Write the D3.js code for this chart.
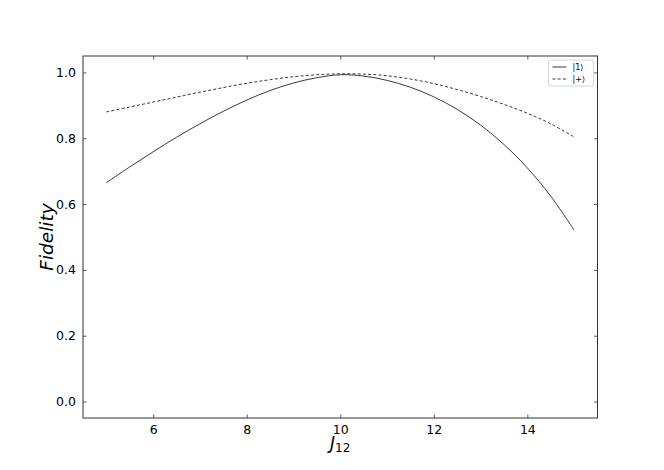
<!DOCTYPE html>
<meta charset="utf-8">
<head>
<title>Fidelity vs J12</title>
<style>
  body { margin: 0; background: white; }
  text { font-family: "DejaVu Sans", sans-serif; fill: #000; }
</style>
</head>
<body>
<div id="chart1"></div>
<script src="https://d3js.org/d3.v7.min.js"></script>
<script>

// coupling values J12
var j12 = [5, 5.5, 6, 6.5, 7, 7.5, 8, 8.5, 9, 9.5, 10, 10.5, 11, 11.5, 12, 12.5, 13, 13.5, 14, 14.5, 15];
// fidelity of |1> state (solid)
var fidOne = [0.665, 0.713, 0.759, 0.803, 0.844, 0.882, 0.916, 0.945, 0.968, 0.984, 0.993, 0.989, 0.976, 0.955, 0.926, 0.888, 0.840, 0.781, 0.710, 0.624, 0.521];
// fidelity of |+> state (dashed)
var fidPlus = [0.880, 0.895, 0.910, 0.925, 0.940, 0.954, 0.967, 0.978, 0.987, 0.993, 0.996, 0.995, 0.990, 0.980, 0.966, 0.948, 0.927, 0.903, 0.876, 0.844, 0.804];
var xTicks = [6, 8, 10, 12, 14];
var yTicks = [0.0, 0.2, 0.4, 0.6, 0.8, 1.0];
var legendLabels = ["|1\u27E9", "|+\u27E9"];

var margin = {top: 56, right: 66.5, bottom: 52, left: 83},
    width = 664 - margin.left - margin.right,
    height = 470 - margin.top - margin.bottom;

var svg = d3.select("#chart1")
  .append("svg")
    .attr("width", 664)
    .attr("height", 470)
  .append("g")
    .attr("transform", "translate(" + margin.left + "," + margin.top + ")");

var x = d3.scaleLinear().domain([4.5, 15.5]).range([0, width]);
var y = d3.scaleLinear().domain([-0.05, 1.05]).range([height, 0]);

// axes with inward ticks on all four sides
function styleAxis(g) {
  g.select(".domain").remove();
  g.selectAll(".tick line").attr("stroke", "#333").attr("stroke-width", 0.8);
  g.selectAll(".tick text").style("font-size", "12.5px").attr("fill", "#000");
}

svg.append("g")
  .attr("transform", "translate(0," + height + ")")
  .call(d3.axisBottom(x).tickValues(xTicks).tickFormat(d3.format("d")).tickSizeInner(-3.5).tickPadding(7))
  .call(styleAxis);
svg.append("g")
  .call(d3.axisTop(x).tickValues(xTicks).tickFormat("").tickSizeInner(-3.5))
  .call(styleAxis);
svg.append("g")
  .call(d3.axisLeft(y).tickValues(yTicks).tickFormat(d3.format(".1f")).tickSizeInner(-3.5).tickPadding(7))
  .call(styleAxis);
svg.append("g")
  .attr("transform", "translate(" + width + ",0)")
  .call(d3.axisRight(y).tickValues(yTicks).tickFormat("").tickSizeInner(-3.5))
  .call(styleAxis);

svg.append("rect")
  .attr("width", width)
  .attr("height", height)
  .attr("fill", "none")
  .attr("stroke", "#333")
  .attr("stroke-width", 1);

var line = d3.line()
  .x(function(d) { return x(d[0]); })
  .y(function(d) { return y(d[1]); })
  .curve(d3.curveCatmullRom);

svg.append("path")
  .datum(d3.zip(j12, fidOne))
  .attr("fill", "none")
  .attr("stroke", "#222")
  .attr("stroke-width", 0.9)
  .attr("d", line);

svg.append("path")
  .datum(d3.zip(j12, fidPlus))
  .attr("fill", "none")
  .attr("stroke", "#222")
  .attr("stroke-width", 0.9)
  .attr("stroke-dasharray", "3,2.2")
  .attr("d", line);

// axis labels
var xl = svg.append("text")
  .attr("text-anchor", "middle")
  .attr("x", x(10))
  .attr("y", height + 31)
  .style("font-size", "17px");
xl.append("tspan").style("font-style", "italic").text("J");
xl.append("tspan").attr("dy", 3).style("font-size", "12px").text("12");

svg.append("text")
  .attr("text-anchor", "middle")
  .attr("transform", "translate(" + (-30) + "," + (height / 2) + ") rotate(-90)")
  .style("font-size", "18.5px")
  .style("font-style", "italic")
  .text("Fidelity");

// legend
var lg = svg.append("g").attr("transform", "translate(" + (width - 49) + ",4)");
lg.append("rect")
  .attr("width", 45)
  .attr("height", 26)
  .attr("rx", 2)
  .attr("fill", "white")
  .attr("stroke", "#ccc")
  .attr("stroke-width", 0.8);
legendLabels.forEach(function(lbl, i) {
  var yy = 7 + i * 12;
  lg.append("line")
    .attr("x1", 4).attr("x2", 18)
    .attr("y1", yy).attr("y2", yy)
    .attr("stroke", "#222")
    .attr("stroke-width", 0.9)
    .attr("stroke-dasharray", i == 1 ? "3,2.2" : null);
  lg.append("text")
    .attr("x", 24)
    .attr("y", yy + 3)
    .style("font-size", "8px")
    .text(lbl);
});

</script>
</body>
